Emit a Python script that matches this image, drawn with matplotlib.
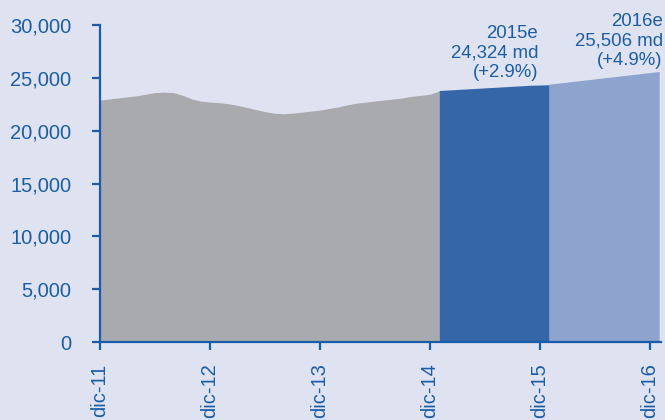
"""Area chart: historical series plus 2015e / 2016e estimates"""

import numpy as np
from matplotlib import pyplot as plt
from matplotlib import transforms

# monthly values, index 0 = dic-11
hist_vals = [22900, 23000, 23100, 23200, 23300, 23450, 23600, 23650, 23600, 23350,
             23000, 22800, 22700, 22650, 22550, 22400, 22200, 22000, 21800, 21650,
             21600, 21650, 21750, 21850, 21950, 22100, 22250, 22450, 22600, 22700,
             22800, 22900, 23000, 23100, 23250, 23350, 23450, 23750]
est15_vals = [23800, 23850, 23900, 23950, 24000, 24050, 24100, 24150, 24200, 24250,
              24300, 24320, 24350]
est16_vals = [24400, 24500, 24600, 24700, 24800, 24900, 25000, 25100, 25200, 25300,
              25400, 25500, 25600]
tick_labels = ['dic-11', 'dic-12', 'dic-13', 'dic-14', 'dic-15', 'dic-16']
label_15 = '2015e\n24,324 md\n(+2.9%)'
label_16 = '2016e\n25,506 md\n(+4.9%)'

BG = '#dfe2f0'
BLUE_TXT = '#1b5ea6'
AXIS = '#1a5ca8'

plt.rcParams['font.family'] = ['Liberation Sans', 'DejaVu Sans']

fig = plt.figure(figsize=(6.65, 4.2), dpi=100, facecolor=BG)
ax = fig.add_axes([100 / 665, 78 / 420, 561 / 665, 317 / 420])
ax.set_facecolor(BG)

x_hist = np.arange(len(hist_vals))
x_15 = np.arange(len(est15_vals)) + x_hist[-1]
x_16 = np.arange(len(est16_vals)) + x_15[-1]

ax.fill_between(x_hist, 0, hist_vals, color='#a9aaad', lw=0)
ax.fill_between(x_15, 0, est15_vals, color='#3567a8', lw=0)
ax.fill_between(x_16, 0, est16_vals, color='#8fa3cf', lw=0)

ax.set_xlim(0, 61.2)
ax.set_ylim(0, 30000)
ax.set_yticks(np.arange(0, 30001, 5000))
ax.set_yticklabels(['{:,}'.format(v) for v in range(0, 30001, 5000)])
ax.set_xticks(np.arange(len(tick_labels)) * 12)
ax.set_xticklabels(tick_labels, rotation=90, va='top')

# labels sit a little right of their ticks in the original
shift = transforms.ScaledTranslation(5 / 100, 0, fig.dpi_scale_trans)
for lbl in ax.get_xticklabels():
    lbl.set_transform(lbl.get_transform() + shift)

for side in ['top', 'right']:
    ax.spines[side].set_visible(False)
for side in ['left', 'bottom']:
    ax.spines[side].set_color(AXIS)
    ax.spines[side].set_linewidth(1.6)
ax.tick_params(axis='y', colors=AXIS, labelcolor=BLUE_TXT, labelsize=14.5,
               length=5.5, width=1.6, pad=15)
ax.tick_params(axis='x', colors=AXIS, labelcolor=BLUE_TXT, labelsize=14.5,
               length=5.5, width=1.6, pad=10)

ax.text(47.8, 24700, label_15, ha='right', va='bottom', color=BLUE_TXT,
        fontsize=13.4, linespacing=1.2, multialignment='right')
ax.text(61.4, 25850, label_16, ha='right', va='bottom', color=BLUE_TXT,
        fontsize=13.4, linespacing=1.2, multialignment='right')

fig.savefig('out.png', dpi=100, facecolor=BG)
